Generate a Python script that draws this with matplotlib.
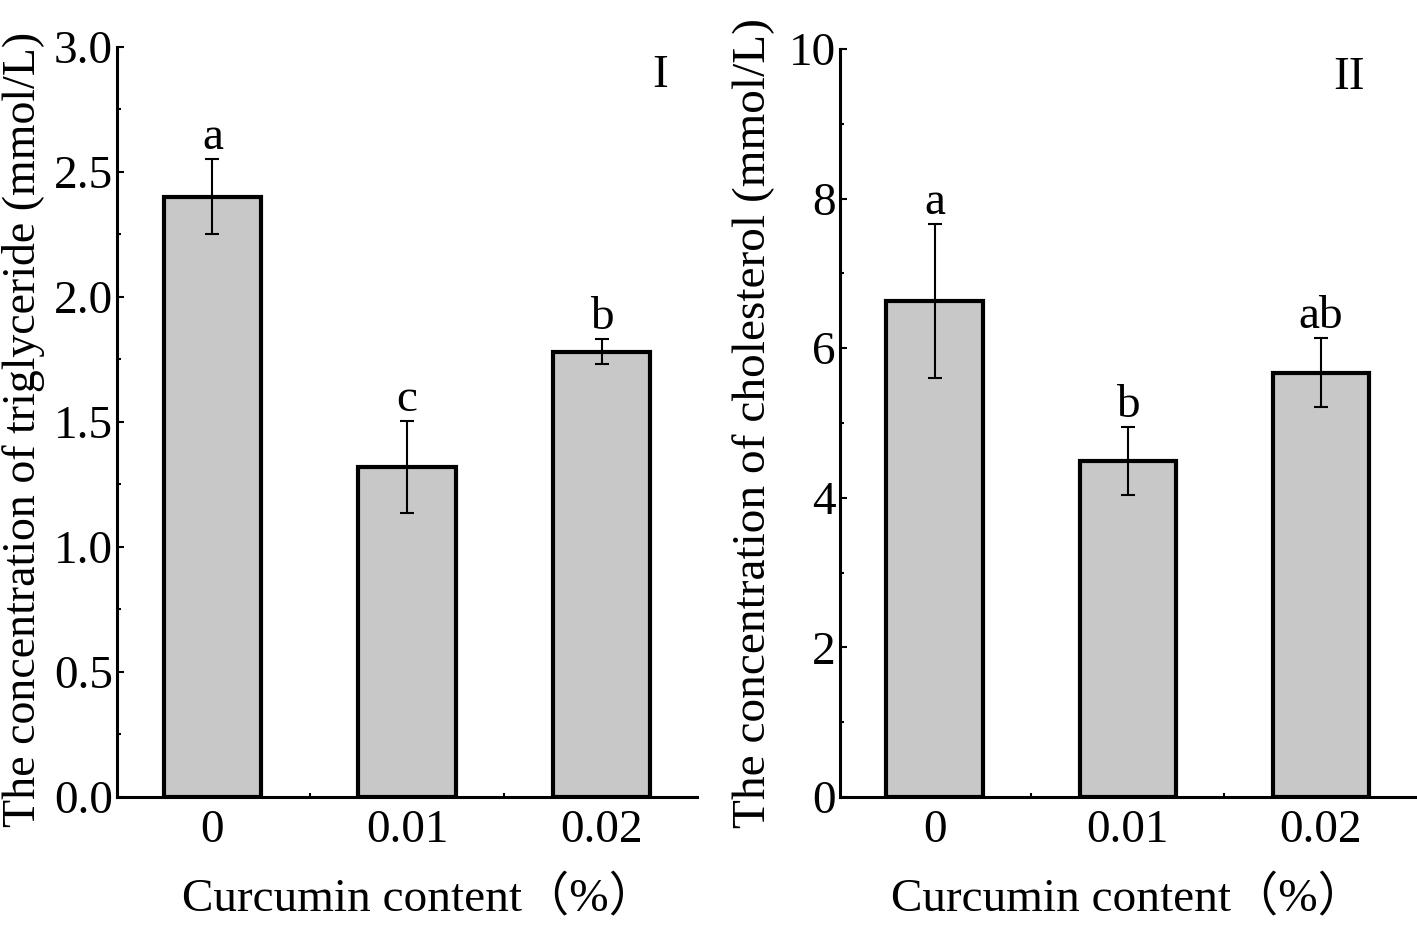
import matplotlib
matplotlib.use("Agg")
import matplotlib.pyplot as plt
from matplotlib.ticker import MultipleLocator, FormatStrFormatter

plt.rcParams['font.family'] = ['Liberation Serif', 'Noto Sans CJK SC']

# data
groups = ['0', '0.01', '0.02']
tg_mean = [2.40, 1.32, 1.78]
tg_err = [0.15, 0.185, 0.05]
tg_sig = ['a', 'c', 'b']
chol_mean = [6.63, 4.49, 5.67]
chol_err = [1.03, 0.45, 0.46]
chol_sig = ['a', 'b', 'ab']

fig = plt.figure(figsize=(14.17, 9.25), dpi=100)
ax1 = fig.add_axes([0.0826, 0.1384, 0.4094, 0.8108])
ax2 = fig.add_axes([0.5928, 0.1384, 0.4062, 0.8086])

FS = 34
pos = list(range(len(groups)))


def panel(ax, mean, err, sig, ymax, major, minor, ylabel, tag, tag_x,
          ylab_x, ylab_y, ylab_fs, xlab_x):
    ax.bar(pos, mean, width=0.5, color='#c8c8c8', edgecolor='black', linewidth=3, zorder=2)
    ax.errorbar(pos, mean, yerr=err, fmt='none', ecolor='black', elinewidth=1.5,
                capsize=5, capthick=1.5, zorder=3)
    for x, m, e, s in zip(pos, mean, err, sig):
        ax.text(x, m + e, s, ha='center', va='bottom', fontsize=FS)
    ax.set_xlim(-0.49, 2.49)
    ax.set_ylim(0, ymax)
    ax.set_xticks(pos, groups)
    ax.xaxis.set_minor_locator(MultipleLocator(0.5))
    ax.yaxis.set_major_locator(MultipleLocator(major))
    ax.yaxis.set_minor_locator(MultipleLocator(minor))
    for sp in ['top', 'right']:
        ax.spines[sp].set_visible(False)
    for sp in ['left', 'bottom']:
        ax.spines[sp].set_linewidth(2.2)
    ax.tick_params(which='major', direction='in', length=5, width=1.5, labelsize=FS)
    ax.tick_params(which='minor', direction='in', length=3, width=1.5)
    ax.tick_params(axis='x', which='major', pad=9)
    ax.tick_params(axis='y', which='major', pad=3)
    ax.set_ylabel(ylabel, fontsize=ylab_fs)
    ax.yaxis.set_label_coords(ylab_x, ylab_y)
    ax.set_xlabel('Curcumin content（%）', fontsize=FS)
    ax.xaxis.set_label_coords(xlab_x, -0.105)
    ax.text(tag_x, 0.99, tag, transform=ax.transAxes, ha='center', va='top', fontsize=FS)


panel(ax1, tg_mean, tg_err, tg_sig, 3.0, 0.5, 0.25,
      'The concentration of triglyceride (mmol/L)', 'I', 0.936,
      -0.124, 0.49, 33, 0.52)
ax1.yaxis.set_major_formatter(FormatStrFormatter('%.1f'))
panel(ax2, chol_mean, chol_err, chol_sig, 10, 2, 1,
      'The concentration of cholesterol (mmol/L)', 'II', 0.884,
      -0.113, 0.5, 34, 0.5)

fig.savefig('out.png', dpi=100)
